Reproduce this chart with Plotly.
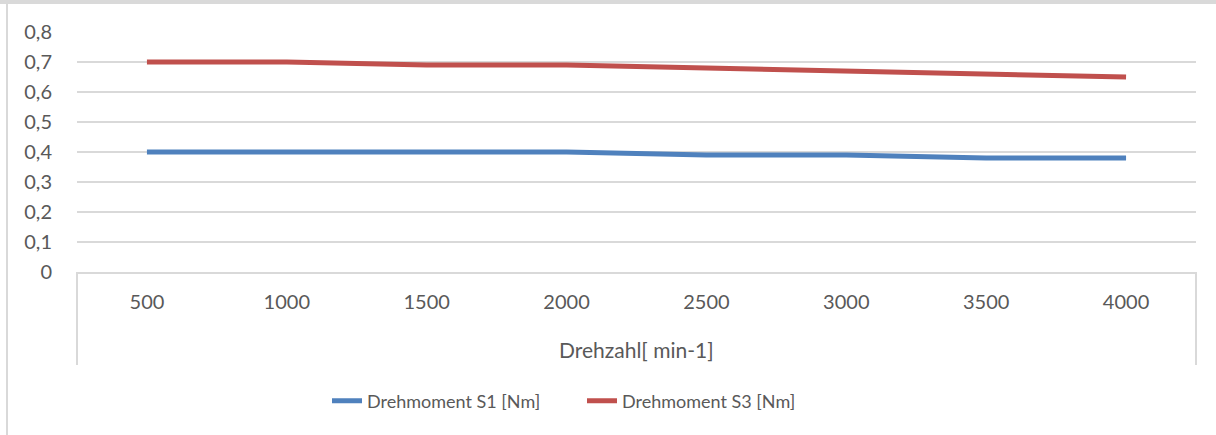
import plotly.graph_objects as go

# ---- data ----
drehzahl = [500, 1000, 1500, 2000, 2500, 3000, 3500, 4000]
s1_values = [0.40, 0.40, 0.40, 0.40, 0.39, 0.39, 0.38, 0.38]
s3_values = [0.70, 0.70, 0.69, 0.69, 0.68, 0.67, 0.66, 0.65]
series_names = ["Drehmoment S1 [Nm]", "Drehmoment S3 [Nm]"]
x_title = "Drehzahl[ min-1]"
x_tick_labels = [str(v) for v in drehzahl]

# ---- layout geometry ----
W, H = 1216, 435
L, R, T, B = 77, 20, 32, 163
PW, PH = W - L - R, H - T - B

def px(x):
    return (x - L) / PW

def py(y):
    return (H - B - y) / PH

FONT = "Lato, Calibri, Carlito, sans-serif"
TXT = "#595959"
GRID = "#D9D9D9"

fig = go.Figure()
fig.add_trace(go.Scatter(x=drehzahl, y=s1_values, mode="lines", name=series_names[0],
                         line=dict(color="#4F81BD", width=5)))
fig.add_trace(go.Scatter(x=drehzahl, y=s3_values, mode="lines", name=series_names[1],
                         line=dict(color="#C0504D", width=5)))

shapes = [
    # top gray band
    dict(type="rect", xref="paper", yref="paper", x0=px(0), x1=px(W), y0=py(4), y1=py(0),
         fillcolor=GRID, line=dict(width=0), layer="below"),
    # left border
    dict(type="line", xref="paper", yref="paper", x0=px(7), x1=px(7), y0=py(4), y1=py(H),
         line=dict(color=GRID, width=2), layer="below"),
    # category axis box sides
    dict(type="line", xref="paper", yref="paper", x0=0, x1=0, y0=0, y1=py(365),
         line=dict(color=GRID, width=2), layer="below"),
    dict(type="line", xref="paper", yref="paper", x0=1, x1=1, y0=0, y1=py(365),
         line=dict(color=GRID, width=2), layer="below"),
]

fig.update_layout(
    width=W, height=H,
    margin=dict(l=L, r=R, t=T, b=B, autoexpand=False),
    paper_bgcolor="white", plot_bgcolor="white",
    separators=",.",
    font=dict(family=FONT, color=TXT, size=20),
    showlegend=True,
    legend=dict(orientation="h", xanchor="left", yanchor="middle",
                x=px(327), y=py(401), font=dict(size=18, color=TXT),
                bgcolor="rgba(0,0,0,0)", itemwidth=30, tracegroupgap=0,
                entrywidth=210, entrywidthmode="pixels"),
    xaxis=dict(range=[250, 4250], tickmode="array", tickvals=drehzahl, ticktext=x_tick_labels,
               showgrid=False, zeroline=False, showline=True, linecolor=GRID, linewidth=2,
               ticks="", ticklabelstandoff=11, tickfont=dict(size=20, color=TXT),
               fixedrange=True),
    yaxis=dict(range=[0, 0.8], dtick=0.1, tick0=0, showgrid=True, gridcolor=GRID, gridwidth=1.5,
               zeroline=False, showline=False, ticks="", ticklabelstandoff=24,
               tickfont=dict(size=20, color=TXT), fixedrange=True),
    shapes=shapes,
    annotations=[dict(text=x_title, xref="paper", yref="paper", x=0.5, y=py(349),
                      xanchor="center", yanchor="middle", showarrow=False,
                      font=dict(size=21, color=TXT))],
)

fig.write_html("out.html", config={"displayModeBar": False},
               post_script="document.body.style.margin='0';document.body.style.overflow='hidden';")
